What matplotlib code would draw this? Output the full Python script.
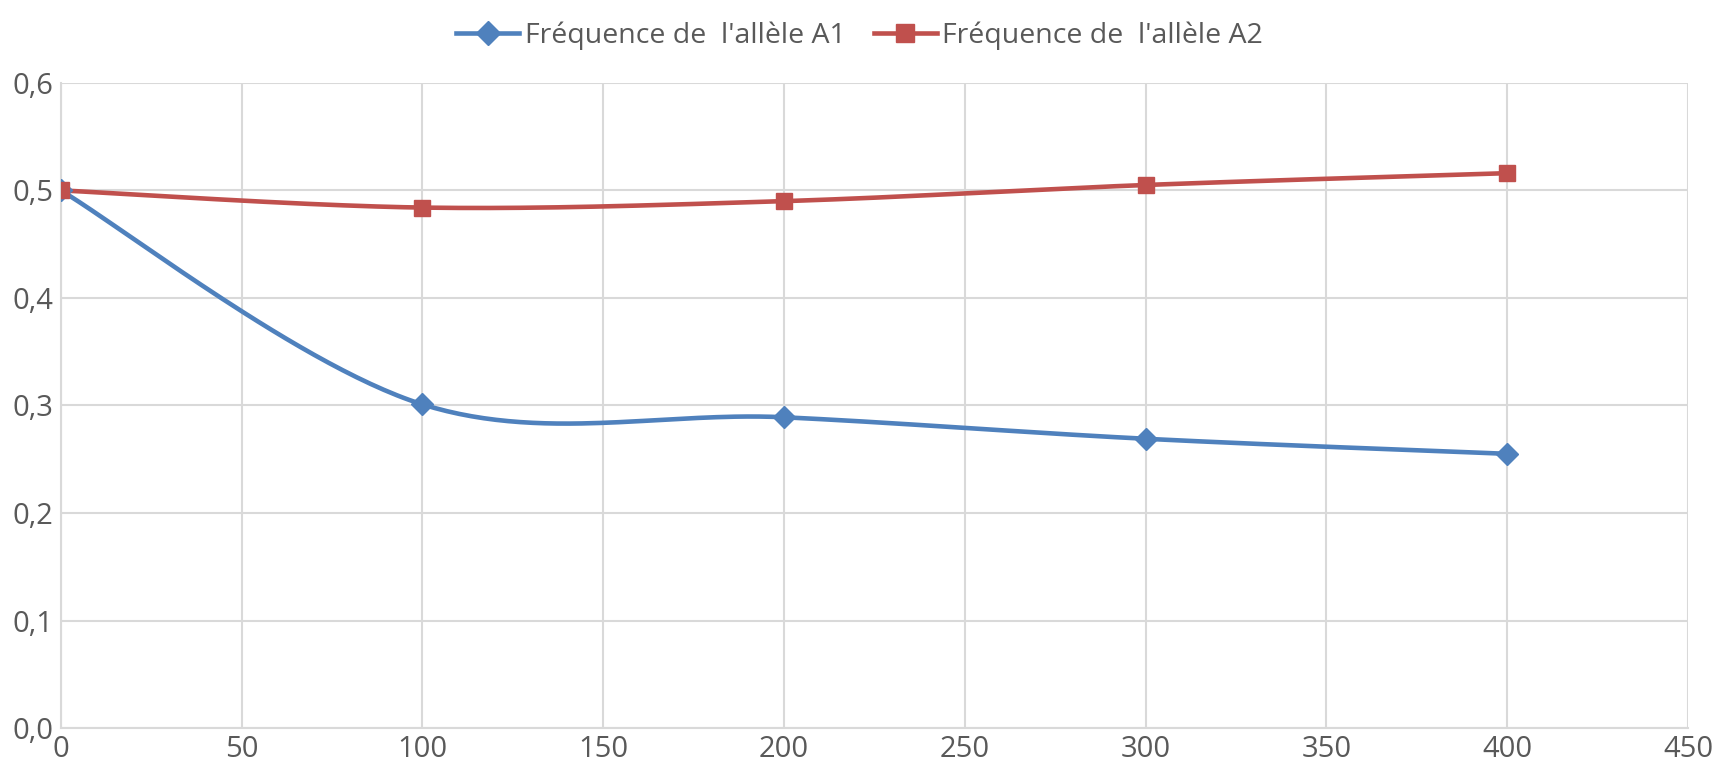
import numpy as np
import matplotlib
matplotlib.use('Agg')
import matplotlib.pyplot as plt
from matplotlib.ticker import FuncFormatter, MultipleLocator

generations = [0, 100, 200, 300, 400]
freq_a1 = [0.500, 0.301, 0.289, 0.269, 0.255]
freq_a2 = [0.500, 0.484, 0.490, 0.505, 0.516]
labels = ["Fréquence de  l'allèle A1", "Fréquence de  l'allèle A2"]
colors = ['#4f81bd', '#c0504d']
markers = ['D', 's']


def smooth(xs, ys, n=60):
    # Excel-like smoothed line: cubic bezier through the points
    p = np.column_stack([xs, ys]).astype(float)
    p = np.vstack([p[0], p, p[-1]])
    out = []
    t = np.linspace(0, 1, n)[:, None]
    for i in range(1, len(p) - 2):
        p0, p1, p2, p3 = p[i - 1], p[i], p[i + 1], p[i + 2]
        c1 = p1 + (p2 - p0) / 6
        c2 = p2 - (p3 - p1) / 6
        seg = ((1 - t) ** 3) * p1 + 3 * ((1 - t) ** 2) * t * c1 + 3 * (1 - t) * t ** 2 * c2 + t ** 3 * p2
        out.append(seg)
    out = np.vstack(out)
    return out[:, 0], out[:, 1]


plt.rcParams['font.family'] = ['Open Sans', 'DejaVu Sans']
fig = plt.figure(figsize=(17.3, 7.67), dpi=100)
ax = fig.add_axes([0.0351, 0.0508, 0.9406, 0.8412])

handles = []
for ys, lab, col, mk in zip([freq_a1, freq_a2], labels, colors, markers):
    sx, sy = smooth(generations, ys)
    ms = 11 if mk == 'D' else 12
    ax.plot(sx, sy, color=col, lw=3.3, zorder=3, solid_capstyle='round')
    ax.plot(generations, ys, ls='none', marker=mk, color=col, ms=ms, zorder=4)
    h, = ax.plot([], [], color=col, lw=3.3, marker=mk, ms=ms + 1, label=lab)
    handles.append(h)

ax.set_xlim(0, 450)
ax.set_ylim(0, 0.6)
ax.xaxis.set_major_locator(MultipleLocator(50))
ax.yaxis.set_major_locator(MultipleLocator(0.1))
ax.yaxis.set_major_formatter(FuncFormatter(lambda v, p: f'{v:.1f}'.replace('.', ',')))
ax.grid(True, color='#d9d9d9', lw=1.5, zorder=0)
ax.set_axisbelow(True)
for s in ['top', 'right']:
    ax.spines[s].set_visible(False)
for s in ['left', 'bottom']:
    ax.spines[s].set_color('#d9d9d9')
    ax.spines[s].set_linewidth(1.5)
ax.tick_params(length=0, labelsize=21, colors='#595959', pad=5)

fig.legend(handles=handles, loc='upper center', bbox_to_anchor=(0.497, 1.005), ncol=2,
           frameon=False, fontsize=20.5, labelcolor='#595959', handlelength=2.2,
           handletextpad=0.2, columnspacing=1.0)

fig.savefig('out.png', dpi=100)
